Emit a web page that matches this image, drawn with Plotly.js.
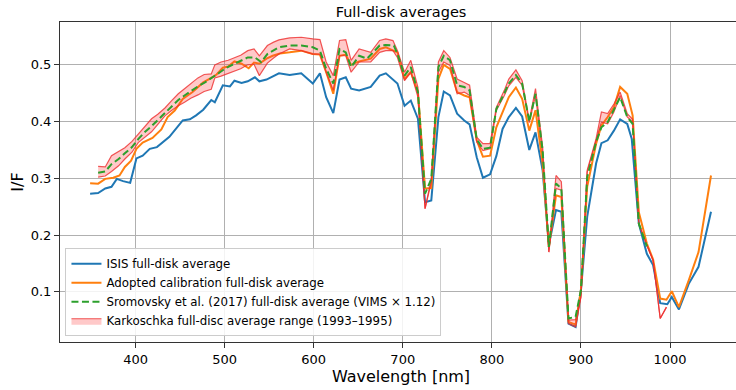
<!DOCTYPE html>
<html>
<head>
<meta charset="utf-8">
<script src="https://cdn.plot.ly/plotly-3.0.1.min.js"></script>
<style>
html,body{margin:0;padding:0;overflow:hidden;background:#fff;width:736px;height:390px;}
#chart{width:742px;height:390px;}
</style>
</head>
<body>
<div id="chart"></div>
<script>
// ISIS full-disk average
const isisWl = [349,358,366,373,379,386,394,401,408,416,424,431,438,453,461,468,476,485,489,498,506,511,519,526,534,539,547,561,573,586,599,607,614,622,629,636,642,651,664,674,681,694,702,709,717,725,732,740,746,753,761,769,775,783,790,798,805,812,819,827,834,842,849,857,864,872,878,886,894,900,907,917,923,930,937,944,952,957,965,974,981,989,997,1002,1010,1021,1032,1046];
const isisVal = [0.273,0.274,0.282,0.285,0.299,0.295,0.292,0.335,0.340,0.352,0.355,0.364,0.373,0.402,0.404,0.411,0.421,0.438,0.434,0.464,0.462,0.472,0.468,0.471,0.478,0.471,0.474,0.485,0.482,0.485,0.467,0.485,0.443,0.415,0.474,0.478,0.458,0.455,0.461,0.481,0.485,0.467,0.428,0.437,0.405,0.258,0.261,0.408,0.453,0.446,0.414,0.402,0.395,0.337,0.301,0.307,0.339,0.387,0.408,0.424,0.409,0.350,0.381,0.314,0.183,0.244,0.241,0.044,0.038,0.103,0.232,0.326,0.362,0.367,0.384,0.404,0.396,0.370,0.220,0.167,0.147,0.080,0.078,0.091,0.069,0.114,0.144,0.241];

// Adopted calibration full-disk average
const adoptWl = [349,358,366,375,382,388,395,401,408,419,429,436,444,453,464,476,485,491,498,504,511,519,527,533,539,547,554,562,573,586,599,607,614,622,629,636,642,651,664,674,681,694,702,709,717,725,732,740,746,753,761,769,775,783,790,798,805,814,819,827,834,842,849,857,864,872,878,886,894,900,907,917,923,930,937,944,952,958,965,974,981,989,996,1002,1010,1021,1032,1046];
const adoptVal = [0.2915,0.2905,0.299,0.301,0.305,0.320,0.331,0.352,0.363,0.371,0.386,0.408,0.4195,0.440,0.452,0.469,0.477,0.483,0.495,0.497,0.506,0.502,0.494,0.504,0.502,0.511,0.516,0.520,0.522,0.525,0.519,0.518,0.487,0.449,0.516,0.518,0.500,0.506,0.511,0.528,0.531,0.522,0.475,0.487,0.452,0.282,0.283,0.475,0.500,0.493,0.452,0.446,0.443,0.367,0.338,0.340,0.390,0.4225,0.443,0.460,0.440,0.384,0.420,0.326,0.179,0.270,0.267,0.047,0.042,0.103,0.285,0.361,0.393,0.408,0.425,0.461,0.449,0.411,0.240,0.185,0.157,0.088,0.086,0.101,0.073,0.120,0.170,0.305];

// Sromovsky et al. (2017) full-disk average (VIMS x 1.12)
const sromWl = [358,366,373,381,388,396,403,410,418,425,433,440,448,455,462,470,477,485,494,502,511,518,526,534,541,548,555,561,573,586,599,607,614,622,629,636,642,651,660,674,681,690,694,702,709,717,725,732,740,746,753,761,769,775,783,790,798,805,814,819,827,834,842,849,857,864,872,878,886,894,900,907,917,923,930,937,944,952,958,965,974];
const sromVal = [0.310,0.312,0.325,0.334,0.344,0.355,0.369,0.381,0.392,0.403,0.416,0.427,0.438,0.446,0.454,0.462,0.468,0.476,0.486,0.495,0.502,0.507,0.513,0.513,0.505,0.519,0.525,0.531,0.534,0.534,0.531,0.525,0.493,0.467,0.528,0.522,0.496,0.516,0.511,0.534,0.535,0.534,0.519,0.481,0.496,0.452,0.273,0.299,0.496,0.516,0.508,0.464,0.461,0.455,0.369,0.352,0.354,0.422,0.450,0.467,0.482,0.467,0.400,0.449,0.349,0.179,0.291,0.282,0.053,0.056,0.103,0.302,0.364,0.390,0.399,0.420,0.443,0.408,0.396,0.220,0.180];

// Karkoschka full-disc average range (1993-1995)
const karkWl = [358,366,373,381,388,396,403,410,418,425,433,440,448,455,462,470,477,485,489,496,504,511,518,526,533,539,548,555,561,573,586,599,607,614,622,629,636,642,651,664,674,681,689,694,702,709,717,725,732,740,746,753,761,769,775,783,790,798,805,814,819,827,834,842,849,857,864,872,878,886,894,900,907,917,923,930,937,944,952,958,965,974,981,989,996];
const karkHigh = [0.321,0.320,0.340,0.347,0.354,0.365,0.378,0.391,0.405,0.413,0.424,0.436,0.449,0.458,0.467,0.477,0.483,0.484,0.500,0.505,0.508,0.512,0.517,0.525,0.528,0.516,0.534,0.540,0.544,0.5475,0.5486,0.5458,0.5445,0.505,0.481,0.543,0.5445,0.508,0.528,0.522,0.543,0.5458,0.5428,0.525,0.487,0.508,0.4605,0.2465,0.299,0.505,0.525,0.513,0.475,0.469,0.464,0.3725,0.361,0.361,0.425,0.455,0.475,0.491,0.472,0.402,0.458,0.355,0.170,0.305,0.294,0.050,0.051,0.091,0.314,0.370,0.417,0.414,0.431,0.452,0.414,0.404,0.220,0.182,0.1555,0.053,0.073];
const karkLow = [0.302,0.304,0.312,0.322,0.334,0.346,0.363,0.372,0.382,0.395,0.410,0.419,0.428,0.434,0.441,0.447,0.453,0.457,0.477,0.480,0.485,0.488,0.493,0.500,0.501,0.481,0.503,0.512,0.519,0.528,0.525,0.519,0.519,0.487,0.455,0.516,0.516,0.487,0.505,0.505,0.522,0.525,0.525,0.513,0.472,0.487,0.443,0.2465,0.293,0.487,0.505,0.499,0.449,0.452,0.446,0.364,0.349,0.352,0.4195,0.446,0.463,0.478,0.4636,0.398,0.446,0.343,0.170,0.282,0.279,0.044,0.038,0.091,0.311,0.367,0.399,0.396,0.417,0.446,0.408,0.399,0.220,0.182,0.1555,0.053,0.073];

const xTicks = [400,500,600,700,800,900,1000];
const yTicks = [0.1,0.2,0.3,0.4,0.5];

const font = "DejaVu Sans, sans-serif";
const edge = 'rgba(238,45,45,0.8)';

const traces = [
  {x: isisWl, y: isisVal, type:'scatter', mode:'lines', name:'ISIS full-disk average',
   line:{color:'#1f77b4', width:2}},
  {x: adoptWl, y: adoptVal, type:'scatter', mode:'lines', name:'Adopted calibration full-disk average',
   line:{color:'#ff7f0e', width:2}},
  {x: karkWl, y: karkLow, type:'scatter', mode:'lines', showlegend:false, hoverinfo:'skip',
   line:{color:edge, width:1.2}, legendrank:1004},
  {x: karkWl, y: karkHigh, type:'scatter', mode:'lines', fill:'tonexty', fillcolor:'rgba(255,60,60,0.28)',
   name:'Karkoschka full-disc average range (1993–1995)', line:{color:edge, width:1.2}, legendrank:1004},
  {x: sromWl, y: sromVal, type:'scatter', mode:'lines', name:'Sromovsky et al. (2017) full-disk average (VIMS × 1.12)',
   line:{color:'#2ca02c', width:2, dash:'7px,3.5px'}, legendrank:1003}
];
traces[0].legendrank = 1001;
traces[1].legendrank = 1002;

const layout = {
  width: 742, height: 390,
  margin: {l:60, r:0, t:22, b:48},
  paper_bgcolor:'#fff', plot_bgcolor:'#fff',
  font: {family: font, color:'#000', size:12},
  title: {text:'Full-disk averages', font:{family:font, size:14.5, color:'#000'},
          x:0.5, xref:'paper', xanchor:'center', y:1-12/390, yref:'container', yanchor:'middle'},
  xaxis: {range:[315.2,1080.8], tickvals:xTicks, ticktext:xTicks.map(String),
          showgrid:true, gridcolor:'#b0b0b0', gridwidth:1, zeroline:false,
          showline:true, linecolor:'#333', linewidth:1, mirror:true,
          ticks:'outside', ticklen:5, tickcolor:'#333', tickfont:{size:13, family:font},
          title:{text:'Wavelength [nm]', font:{size:16, family:font}, standoff:2}},
  yaxis: {range:[0.0115,0.5755], tickvals:yTicks, ticktext:yTicks.map(v=>v.toFixed(1)),
          showgrid:true, gridcolor:'#b0b0b0', gridwidth:1, zeroline:false,
          showline:true, linecolor:'#333', linewidth:1, mirror:true,
          ticks:'outside', ticklen:5, tickcolor:'#333', tickfont:{size:13, family:font},
          title:{text:'I/F', font:{size:16, family:font}, standoff:3}},
  legend: {x:0.008, y:0.018, xanchor:'left', yanchor:'bottom', traceorder:'normal',
           bgcolor:'rgba(255,255,255,0.85)', bordercolor:'#cccccc', borderwidth:1,
           font:{size:11.8, family:font}, tracegroupgap:0, itemwidth:30},
  showlegend:true
};

Plotly.newPlot('chart', traces, layout, {staticPlot:true, displayModeBar:false});
</script>
</body>
</html>
